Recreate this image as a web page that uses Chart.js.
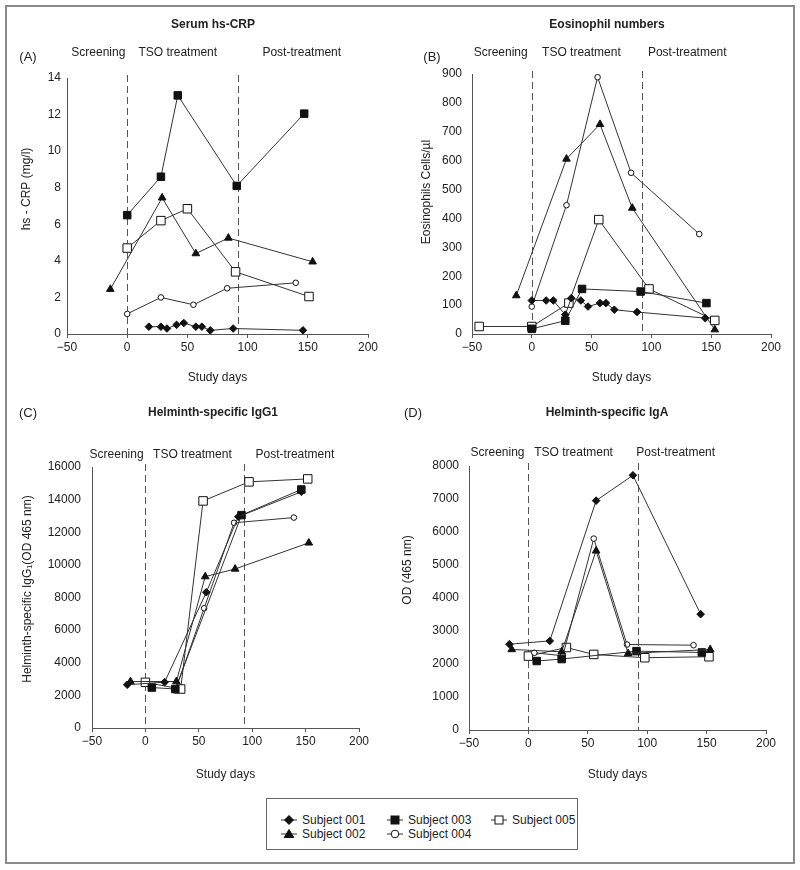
<!DOCTYPE html>
<html>
<head>
<meta charset="utf-8">
<script src="https://cdn.jsdelivr.net/npm/chart.js@4.4.1/dist/chart.umd.min.js"></script>
<style>
body{margin:0;background:#fff;width:800px;height:870px;position:relative;font-family:"Liberation Sans",Arial,sans-serif;}
.frame{position:absolute;left:5px;top:5px;width:786px;height:855px;border:2px solid #8a8a8a;}
.panel{position:absolute;width:400px;height:400px;}
#legend{position:absolute;left:266px;top:798px;width:312px;height:52px;border:1px solid #666;box-sizing:border-box;background:#fff;}
.item{position:absolute;font-size:12px;color:#222;line-height:14px;white-space:nowrap;}
.item svg{position:absolute;}
</style>
</head>
<body>
<div class="frame"></div>
<div class="panel" style="left:0;top:0"><canvas id="crp" width="400" height="400"></canvas></div>
<div class="panel" style="left:400px;top:0"><canvas id="eos" width="400" height="400"></canvas></div>
<div class="panel" style="left:0;top:400px"><canvas id="igg" width="400" height="400"></canvas></div>
<div class="panel" style="left:400px;top:400px"><canvas id="iga" width="400" height="400"></canvas></div>
<div id="legend"></div>
<script>
var subjects = ['Subject 001', 'Subject 002', 'Subject 003', 'Subject 004', 'Subject 005'];
var phaseNames = ['Screening', 'TSO treatment', 'Post-treatment'];
var phaseBounds = [0, 92];

// (A) serum hs-CRP, [study day, mg/l]
var crp001 = [[18,0.4],[28,0.4],[33,0.3],[41,0.5],[47,0.6],[57,0.4],[62,0.4],[69,0.2],[88,0.3],[146,0.2]];
var crp002 = [[-14,2.45],[29,7.45],[57,4.4],[84,5.25],[154,3.95]];
var crp003 = [[0,6.5],[28,8.6],[42,13.05],[91,8.1],[147,12.05]];
var crp004 = [[0,1.1],[28,2.0],[55,1.6],[83,2.5],[140,2.8]];
var crp005 = [[0,4.7],[28,6.2],[50,6.85],[90,3.4],[151,2.05]];

// (B) eosinophils, cells/ul
var eos001 = [[0,116],[12,116],[18,116],[28,67],[33,124],[41,116],[47,95],[57,107],[62,107],[69,84],[88,76],[145,55]];
var eos002 = [[-13,133],[29,606],[57,726],[84,436],[153,15]];
var eos003 = [[0,18],[28,46],[42,156],[91,147],[146,107]];
var eos004 = [[0,95],[29,446],[55,889],[83,558],[140,346]];
var eos005 = [[-44,26],[0,26],[31,107],[56,396],[98,156],[153,47]];

// (C) helminth-specific IgG1
var igg001 = [[-17,2650],[18,2810],[57,8320],[87,12950],[146,14480]];
var igg002 = [[-14,2850],[29,2850],[56,9280],[84,9750],[153,11350]];
var igg003 = [[6,2480],[28,2390],[90,13050],[146,14620]];
var igg004 = [[28,2300],[55,7340],[83,12580],[139,12900]];
var igg005 = [[0,2800],[33,2390],[54,13920],[97,15090],[152,15270]];

// (D) helminth-specific IgA
var iga001 = [[-16,2600],[18,2700],[57,6950],[88,7720],[145,3510]];
var iga002 = [[-14,2440],[28,2370],[57,5430],[84,2320],[153,2440]];
var iga003 = [[7,2090],[28,2150],[91,2390],[146,2350]];
var iga004 = [[5,2340],[29,2250],[55,5800],[83,2590],[139,2570]];
var iga005 = [[0,2240],[32,2500],[55,2290],[98,2190],[152,2220]];

var markerStyles = ['rectRot', 'triangle', 'rect', 'circle', 'rect'];
var markerFilled = [true, true, true, false, false];
var markerSizes = [3.8, 4.4, 5.3, 2.8, 6];

var FONT = '"Liberation Sans", Arial, sans-serif';

var panelText = {
    id: 'panelText',
    beforeDatasetsDraw: function (chart) {
        var ctx = chart.ctx, xs = chart.scales.x, area = chart.chartArea;
        ctx.save();
        ctx.strokeStyle = '#555';
        ctx.lineWidth = 1;
        ctx.setLineDash([7, 4]);
        phaseBounds.forEach(function (d) {
            var px = Math.round(xs.getPixelForValue(d)) + 0.5;
            ctx.beginPath();
            ctx.moveTo(px, area.top - 3);
            ctx.lineTo(px, area.bottom);
            ctx.stroke();
        });
        ctx.restore();
    },
    afterDraw: function (chart, args, o) {
        var ctx = chart.ctx, xs = chart.scales.x;
        ctx.save();
        ctx.fillStyle = '#222';
        ctx.textAlign = 'center';
        ctx.textBaseline = 'middle';
        ctx.font = 'bold 12px ' + FONT;
        ctx.fillText(o.title, o.titleX, o.titleY);
        ctx.font = '13px ' + FONT;
        ctx.fillText(o.letter, o.letterX, o.letterY);
        ctx.font = '12px ' + FONT;
        phaseNames.forEach(function (n, i) {
            ctx.fillText(n, xs.getPixelForValue(o.phaseAt[i]), o.phaseY);
        });
        ctx.translate(o.yTitleX, o.yTitleY);
        ctx.rotate(-Math.PI / 2);
        ctx.fillText(o.yTitle, 0, 0);
        ctx.restore();
    }
};

function dayLabel(v) {
    return v < 0 ? '\u2212' + Math.abs(v) : '' + v;
}

function plainLabel(v) {
    return '' + v;
}

function makePanel(id, p) {
    return new Chart(document.getElementById(id), {
        type: 'scatter',
        data: {
            datasets: p.series.map(function (pts, i) {
                return {
                    label: subjects[i],
                    data: pts.map(function (d) { return {x: d[0], y: d[1]}; }),
                    showLine: true,
                    borderColor: '#333',
                    borderWidth: 1,
                    pointStyle: markerStyles[i],
                    pointRadius: markerSizes[i],
                    pointHoverRadius: markerSizes[i],
                    pointBackgroundColor: markerFilled[i] ? '#111' : '#fff',
                    pointBorderColor: '#111',
                    pointBorderWidth: 1
                };
            })
        },
        plugins: [panelText],
        options: {
            responsive: false,
            animation: false,
            layout: {padding: {left: 0, top: p.area.t, right: 400 - p.area.r, bottom: 0}},
            scales: {
                x: {
                    type: 'linear', min: -50, max: 200,
                    afterFit: function (s) { s.height = 400 - p.area.b; },
                    ticks: {stepSize: 50, padding: 2, color: '#222', font: {size: 12, family: FONT}, callback: dayLabel},
                    grid: {display: true, drawOnChartArea: false, tickLength: 4, color: '#555'},
                    border: {display: true, color: '#555', width: 1},
                    title: {display: true, text: 'Study days', color: '#222', font: {size: 12, family: FONT},
                        padding: {top: 0, bottom: p.xTitlePad}}
                },
                y: {
                    type: 'linear', min: 0, max: p.yMax,
                    afterFit: function (s) { s.width = p.area.l; },
                    ticks: {stepSize: p.yStep, padding: p.yPad, color: '#222', font: {size: 12, family: FONT}, callback: plainLabel},
                    grid: {display: false, drawTicks: false},
                    border: {display: true, color: '#555', width: 1}
                }
            },
            plugins: {
                legend: {display: false},
                tooltip: {enabled: false},
                panelText: p.text
            }
        }
    });
}

makePanel('crp', {
    series: [crp001, crp002, crp003, crp004, crp005],
    area: {l: 67, r: 368, t: 78, b: 334}, yMax: 14, yStep: 2, yPad: 6, xTitlePad: 15,
    text: {title: 'Serum hs-CRP', titleX: 213, titleY: 25, letter: '(A)', letterX: 28, letterY: 57,
        phaseAt: [-24, 42, 145], phaseY: 53, yTitle: 'hs - CRP (mg/l)', yTitleX: 27, yTitleY: 189}
});

makePanel('eos', {
    series: [eos001, eos002, eos003, eos004, eos005],
    area: {l: 72, r: 371, t: 74, b: 334}, yMax: 900, yStep: 100, yPad: 10, xTitlePad: 15,
    text: {title: 'Eosinophil numbers', titleX: 207, titleY: 25, letter: '(B)', letterX: 32, letterY: 57,
        phaseAt: [-26, 41.5, 130], phaseY: 53, yTitle: 'Eosinophils Cells/\u00b5l', yTitleX: 27, yTitleY: 192}
});

makePanel('igg', {
    series: [igg001, igg002, igg003, igg004, igg005],
    area: {l: 92, r: 359, t: 67, b: 328}, yMax: 16000, yStep: 2000, yPad: 11, xTitlePad: 18,
    text: {title: 'Helminth-specific IgG1', titleX: 213, titleY: 13, letter: '(C)', letterX: 28, letterY: 13,
        phaseAt: [-27, 44, 140], phaseY: 55, yTitle: 'Helminth-specific IgG\u2081(OD 465 nm)', yTitleX: 28, yTitleY: 189}
});

makePanel('iga', {
    series: [iga001, iga002, iga003, iga004, iga005],
    area: {l: 69, r: 366, t: 66, b: 330}, yMax: 8000, yStep: 1000, yPad: 10, xTitlePad: 18,
    text: {title: 'Helminth-specific IgA', titleX: 207, titleY: 13, letter: '(D)', letterX: 13, letterY: 13,
        phaseAt: [-26, 38, 124], phaseY: 53, yTitle: 'OD (465 nm)', yTitleX: 8, yTitleY: 170}
});

// shared legend below the panels
var legendSpots = [[12, 14], [12, 28], [118, 14], [118, 28], [222, 14]];

function markerSvg(i) {
    var fill = markerFilled[i] ? '#111' : '#fff';
    var shape;
    if (markerStyles[i] === 'rectRot') shape = '<polygon points="9,2.5 13.5,7 9,11.5 4.5,7"';
    else if (markerStyles[i] === 'triangle') shape = '<polygon points="9,2.5 13.8,10.5 4.2,10.5"';
    else if (markerStyles[i] === 'circle') shape = '<circle cx="9" cy="7" r="3.8"';
    else shape = '<rect x="5" y="3" width="8" height="8"';
    return '<svg width="18" height="14" style="left:-22px;top:0">' +
        '<line x1="1" y1="7" x2="17" y2="7" stroke="#333" stroke-width="1"/>' +
        shape + ' fill="' + fill + '" stroke="#111" stroke-width="1"/></svg>';
}

var legend = document.getElementById('legend');
subjects.forEach(function (name, i) {
    var el = document.createElement('div');
    el.className = 'item';
    el.style.left = (legendSpots[i][0] + 23) + 'px';
    el.style.top = legendSpots[i][1] + 'px';
    el.innerHTML = markerSvg(i) + name;
    legend.appendChild(el);
});
</script>
</body>
</html>
